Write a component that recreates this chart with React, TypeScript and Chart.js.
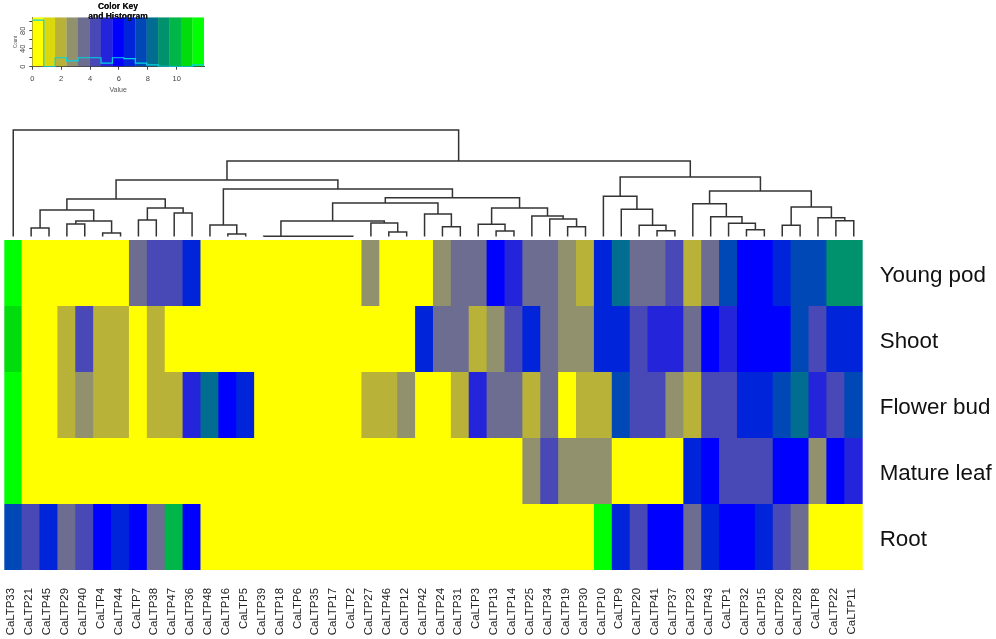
import React, { useEffect, useRef } from "react";
import { Chart, registerables } from "chart.js";

Chart.register(...registerables);

const genes = ["CaLTP33","CaLTP21","CaLTP45","CaLTP29","CaLTP40","CaLTP4","CaLTP44","CaLTP7","CaLTP38","CaLTP47","CaLTP36","CaLTP48","CaLTP16","CaLTP5","CaLTP39","CaLTP18","CaLTP6","CaLTP35","CaLTP17","CaLTP2","CaLTP27","CaLTP46","CaLTP12","CaLTP42","CaLTP24","CaLTP31","CaLTP3","CaLTP13","CaLTP14","CaLTP25","CaLTP34","CaLTP19","CaLTP30","CaLTP10","CaLTP9","CaLTP20","CaLTP41","CaLTP37","CaLTP23","CaLTP43","CaLTP1","CaLTP32","CaLTP15","CaLTP26","CaLTP28","CaLTP8","CaLTP22","CaLTP11"];
const tissues = ["Young pod", "Shoot", "Flower bud", "Mature leaf", "Root"];

// Colour-key bin of every cell
const youngPod =   [14,0,0,0,0,0,0,4,5,5,8,0,0,0,0,0,0,0,0,0,3,0,0,0,3,4,4,7,6,4,4,3,2,8,10,4,4,5,2,4,9,7,7,8,9,9,11,11];
const shoot =      [13,0,0,2,5,2,2,0,2,0,0,0,0,0,0,0,0,0,0,0,0,0,0,8,4,4,2,3,5,8,4,3,3,8,8,5,6,6,4,7,6,7,7,7,9,5,8,8];
const flowerBud =  [14,0,0,2,3,2,2,0,2,2,6,10,7,8,0,0,0,0,0,0,2,2,3,0,0,2,6,4,4,2,4,0,2,2,9,5,5,3,2,5,5,8,8,9,10,6,5,9];
const matureLeaf = [14,0,0,0,0,0,0,0,0,0,0,0,0,0,0,0,0,0,0,0,0,0,0,0,0,0,0,0,0,3,5,3,3,3,0,0,0,0,8,7,5,5,5,7,7,3,7,6];
const rootRow =    [9,5,8,4,5,7,8,7,4,12,7,0,0,0,0,0,0,0,0,0,0,0,0,0,0,0,0,0,0,0,0,0,0,14,8,5,7,7,4,8,7,7,8,5,4,0,0,0];
const rows = [youngPod, shoot, flowerBud, matureLeaf, rootRow];

const palette = ["#FFFF00","#DCD80E","#B8B238","#91916D","#6D6D91","#4848B6","#2424DA","#0000FF","#0024DA","#0048B6","#006D91","#00916D","#00B648","#00DC0C","#00FF00"];

// Colour key
const keyMaxValue = 11.89;
const keyMaxCount = 110;
const histCounts = [104,0,20,13,20,20,8,20,18,8,4,1,0,0,4];

// Dendrogram, hclust style: negative = leaf (1-based column), positive = earlier merge (1-based)
const mergeLeft =  [-2,-4,-6,2,1,-8,-10,6,5,-13,-12,-19,-18,-17,-16,-15,-22,-21,16,-25,-24,19,-28,-27,-32,-31,-30,24,22,11,9,-37,-36,-35,-34,-42,-41,-40,-39,-44,-47,-46,40,39,35,31,-1];
const mergeRight = [-3,-5,-7,3,4,-9,-11,7,8,-14,10,-20,12,13,14,15,-23,17,18,-26,20,21,-29,23,-33,25,26,27,28,29,30,-38,32,33,34,-43,36,37,38,-45,-48,41,42,43,44,45,46];
const mergeHeight = [8.5,12.5,3.5,15.5,26.5,16.5,23.5,28.5,37.5,2.5,11.5,0.3,0.3,0.3,0.3,0.3,4.5,13.5,15.5,9.8,22.5,33.5,5.5,12.2,9.8,17.5,20.5,28.5,38.8,47.5,56.5,5.8,11.2,27.2,40.2,6.8,13.2,19.8,32.8,11.2,15.8,18.8,29.5,45.5,59.5,75.5,106.5];
const dendroMaxHeight = 110;

function dendroSegments() {
  const xs: number[] = [];
  const hs: number[] = [];
  const pts: ({ x: number; y: number } | { x: number; y: null })[] = [];
  const pos = (ref: number) => (ref < 0 ? { x: -ref - 1, h: 0 } : { x: xs[ref - 1], h: hs[ref - 1] });
  mergeHeight.forEach((h, i) => {
    const a = pos(mergeLeft[i]);
    const b = pos(mergeRight[i]);
    pts.push({ x: a.x, y: a.h }, { x: a.x, y: h }, { x: b.x, y: h }, { x: b.x, y: b.h }, { x: b.x, y: null });
    xs.push((a.x + b.x) / 2);
    hs.push(h);
  });
  return pts;
}

const SANS = '"Liberation Sans", Arial, sans-serif';

const noOverhang = (s: any) => {
  s.paddingLeft = 0;
  s.paddingRight = 0;
  s.paddingTop = 0;
  s.paddingBottom = 0;
};

export default function App() {
  const heatRef = useRef<HTMLCanvasElement>(null);
  const dendroRef = useRef<HTMLCanvasElement>(null);
  const keyRef = useRef<HTMLCanvasElement>(null);

  useEffect(() => {
    const heat = new Chart(heatRef.current!, {
      type: "bar",
      data: {
        labels: genes,
        datasets: [...rows].reverse().map((row, i) => ({
          label: tissues[4 - i],
          data: row.map(() => 1),
          backgroundColor: row.map((lvl) => palette[lvl]),
          borderWidth: 0,
          barPercentage: 1.06,
          categoryPercentage: 1,
        })),
      },
      options: {
        responsive: false,
        animation: false,
        events: [],
        layout: { padding: { left: 4.3, top: 240, right: 0, bottom: 0 } },
        plugins: { legend: { display: false }, tooltip: { enabled: false }, title: { display: false } },
        scales: {
          x: {
            stacked: true,
            grid: { display: false, drawTicks: false, tickLength: 0 },
            border: { display: false },
            afterFit: (s: any) => { s.height = 69; noOverhang(s); },
            ticks: {
              autoSkip: false,
              minRotation: 90,
              maxRotation: 90,
              padding: 18,
              labelOffset: -2,
              color: "#222",
              font: { family: SANS, size: 11.4 },
            },
          },
          y: {
            stacked: true,
            position: "right",
            min: 0,
            max: 5,
            grid: { display: false, drawTicks: false, tickLength: 0 },
            border: { display: false },
            afterFit: (s: any) => { s.width = 133.3; noOverhang(s); },
            afterBuildTicks: (s: any) => { s.ticks = [0.45, 1.45, 2.45, 3.45, 4.45].map((value) => ({ value })); },
            ticks: {
              autoSkip: false,
              padding: 17,
              color: "#111",
              font: { family: SANS, size: 22.4 },
              callback: (v: any) => tissues[4 - Math.floor(Number(v))],
            },
          },
        },
      },
    } as any);

    const dendro = new Chart(dendroRef.current!, {
      type: "scatter",
      data: {
        datasets: [{
          data: dendroSegments() as any,
          showLine: true,
          spanGaps: false,
          pointRadius: 0,
          borderColor: "#333",
          borderWidth: 1.5,
          clip: false as any,
        }],
      },
      options: {
        responsive: false,
        animation: false,
        events: [],
        layout: { padding: { left: 4.3, right: 133.3, top: 6.5, bottom: 3.5 } },
        plugins: { legend: { display: false }, tooltip: { enabled: false } },
        scales: {
          x: { type: "linear", min: -0.5, max: 47.5, display: false },
          y: { min: 0, max: dendroMaxHeight, display: false },
        },
      },
    } as any);

    const binWidth = keyMaxValue / palette.length;
    const histLine: { x: number; y: number }[] = [];
    histCounts.forEach((c, i) => {
      histLine.push({ x: i * binWidth, y: c }, { x: (i + 1) * binWidth, y: c });
    });

    const key = new Chart(keyRef.current!, {
      type: "bar",
      data: {
        datasets: [
          {
            type: "line",
            data: histLine,
            borderColor: "#00D4E4",
            borderWidth: 1.2,
            pointRadius: 0,
            order: 0,
          },
          {
            type: "bar",
            data: palette.map((_, i) => ({ x: (i + 0.5) * binWidth, y: keyMaxCount })),
            backgroundColor: palette,
            borderWidth: 0,
            barPercentage: 1.02,
            categoryPercentage: 1,
            order: 1,
          },
        ],
      },
      options: {
        responsive: false,
        animation: false,
        events: [],
        layout: { padding: 0 },
        plugins: {
          legend: { display: false },
          tooltip: { enabled: false },
          title: {
            display: true,
            text: ["Color Key", "and Histogram"],
            color: "#111",
            align: "center",
            font: { family: SANS, size: 8.5, weight: "bold", lineHeight: 1.18 },
            padding: { top: 1.2, bottom: -3.9 },
            fullSize: true,
          },
        },
        scales: {
          x: {
            type: "linear",
            offset: false,
            min: 0,
            max: keyMaxValue,
            grid: { drawOnChartArea: false, offset: false, tickLength: 3, color: "#444" },
            border: { color: "#444" },
            afterFit: (s: any) => { s.height = 33.3; noOverhang(s); },
            title: { display: true, text: "Value", color: "#555", font: { family: SANS, size: 7 }, padding: { top: 2, bottom: 5.5 } },
            ticks: { stepSize: 2, includeBounds: false, color: "#444", padding: 5, maxRotation: 0, font: { family: SANS, size: 7.5 } },
          },
          y: {
            min: 0,
            max: keyMaxCount,
            grid: { drawOnChartArea: false, tickLength: 3, color: "#444" },
            border: { color: "#444" },
            afterFit: (s: any) => { s.width = 32.3; noOverhang(s); },
            title: { display: true, text: "Count", color: "#555", font: { family: SANS, size: 4.5 }, padding: { top: 13, bottom: 2 } },
            ticks: {
              stepSize: 20,
              includeBounds: false,
              autoSkip: false,
              minRotation: 90,
              maxRotation: 90,
              crossAlign: "center",
              color: "#444",
              padding: 2,
              font: { family: SANS, size: 7.5 },
              callback: (v: any) => (Number(v) % 40 === 0 ? String(v) : ""),
            },
          },
          rightMargin: {
            type: "linear",
            position: "right",
            grid: { display: false, drawTicks: false },
            border: { display: false },
            ticks: { display: false },
            afterFit: (s: any) => { s.width = 32; noOverhang(s); },
          },
        },
      },
      plugins: [{
        id: "titleOnTop",
        afterDraw: (c: any) => { c.titleBlock?.draw(); },
      }],
    } as any);

    return () => {
      heat.destroy();
      dendro.destroy();
      key.destroy();
    };
  }, []);

  const abs = (top: number, left: number): React.CSSProperties => ({ position: "absolute", top, left, display: "block" });

  return (
    <div style={{ position: "absolute", left: 0, top: 0, width: 996, height: 639, background: "#fff", overflow: "hidden" }}>
      <canvas ref={heatRef} width={996} height={639} style={abs(0, 0)} />
      <canvas ref={dendroRef} width={996} height={120} style={abs(120, 0)} />
      <canvas ref={keyRef} width={236} height={100} style={abs(0, 0)} />
    </div>
  );
}
